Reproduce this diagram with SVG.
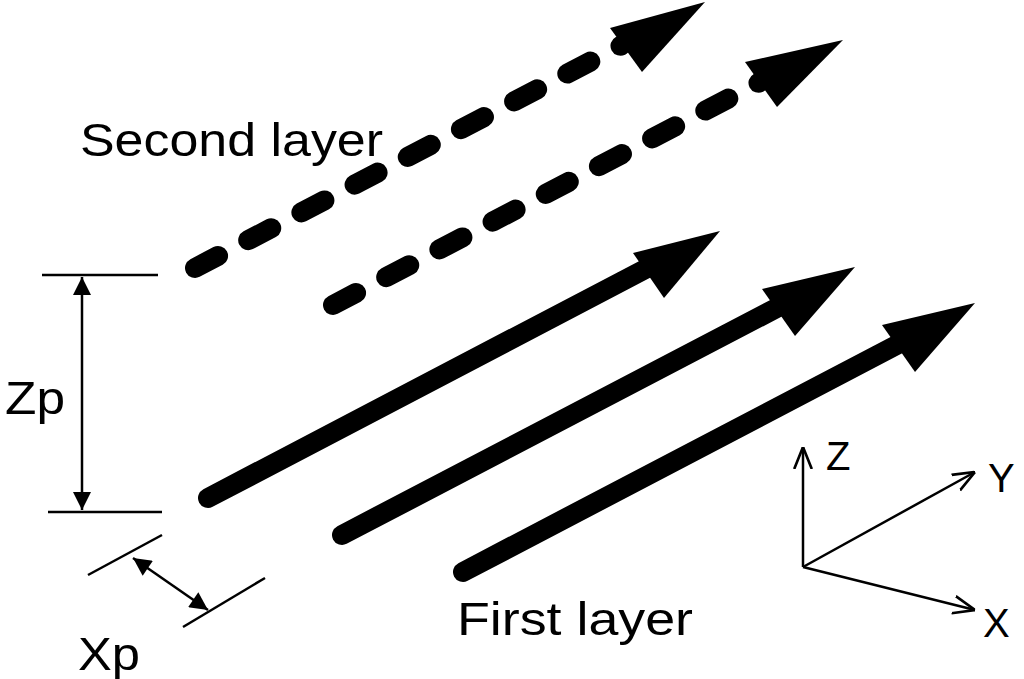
<svg xmlns="http://www.w3.org/2000/svg" width="1024" height="679" viewBox="0 0 1024 679">
<style>
.s{stroke:#000;stroke-width:20;stroke-linecap:round;fill:none}
.d{stroke:#000;stroke-width:20;stroke-linecap:round;stroke-dasharray:26 34;fill:none}
.t{stroke:#000;stroke-width:2.5;fill:none}
text{font-family:"Liberation Sans",Arial,sans-serif;fill:#000}
</style>
<defs>
<marker id="fb" viewBox="0 0 10 10" refX="10" refY="5" markerWidth="22" markerHeight="18" orient="auto-start-reverse" markerUnits="userSpaceOnUse"><path d="M0,0L10,5L0,10z"/></marker>
<marker id="o" viewBox="0 0 10 10" refX="10" refY="5" markerWidth="22" markerHeight="22" orient="auto" markerUnits="userSpaceOnUse"><path d="M0,1L10,5L0,9" fill="none" stroke="#000" stroke-width="1.2"/></marker>
</defs>
<g id="connectors">
<line class="s" x1="208" y1="498" x2="655" y2="264"/>
<polygon points="720,231 633,253 664,298"/>
<line class="s" x1="342" y1="535" x2="790" y2="301"/>
<polygon points="855,267 762,289 795,336"/>
<line class="s" x1="463" y1="572" x2="910" y2="338"/>
<polygon points="975,303 882,325 915,372"/>
<line class="d" x1="195" y1="268" x2="622" y2="45"/>
<polygon points="705,2 610,28 642,72"/>
<line class="d" x1="333" y1="305" x2="760" y2="82"/>
<polygon points="843,40 745,62 777,107"/>
</g>
<g id="zp">
<line class="t" x1="42" y1="275" x2="158" y2="275"/>
<line class="t" x1="48" y1="512" x2="162" y2="512"/>
<line class="t" x1="82" y1="277" x2="82" y2="510" marker-start="url(#fb)" marker-end="url(#fb)"/>
<text x="5" y="414" font-size="46" textLength="60" lengthAdjust="spacingAndGlyphs">Zp</text>
</g>
<g id="xp">
<line class="t" x1="88" y1="575" x2="162" y2="535"/>
<line class="t" x1="183" y1="627" x2="265" y2="578"/>
<line class="t" x1="133" y1="558" x2="208" y2="610" marker-start="url(#fb)" marker-end="url(#fb)"/>
<text x="78" y="670" font-size="46" textLength="62" lengthAdjust="spacingAndGlyphs">Xp</text>
</g>
<g id="axes">
<line class="t" x1="803" y1="567" x2="803" y2="447" marker-end="url(#o)"/>
<line class="t" x1="803" y1="567" x2="975" y2="472" marker-end="url(#o)"/>
<line class="t" x1="803" y1="567" x2="975" y2="610" marker-end="url(#o)"/>
<text x="826" y="470" font-size="40">Z</text>
<text x="988" y="492" font-size="40">Y</text>
<text x="983" y="637" font-size="40">X</text>
</g>
<text x="80" y="156" font-size="46" textLength="303" lengthAdjust="spacingAndGlyphs">Second layer</text>
<text x="457" y="635" font-size="46" textLength="236" lengthAdjust="spacingAndGlyphs">First layer</text>
</svg>
